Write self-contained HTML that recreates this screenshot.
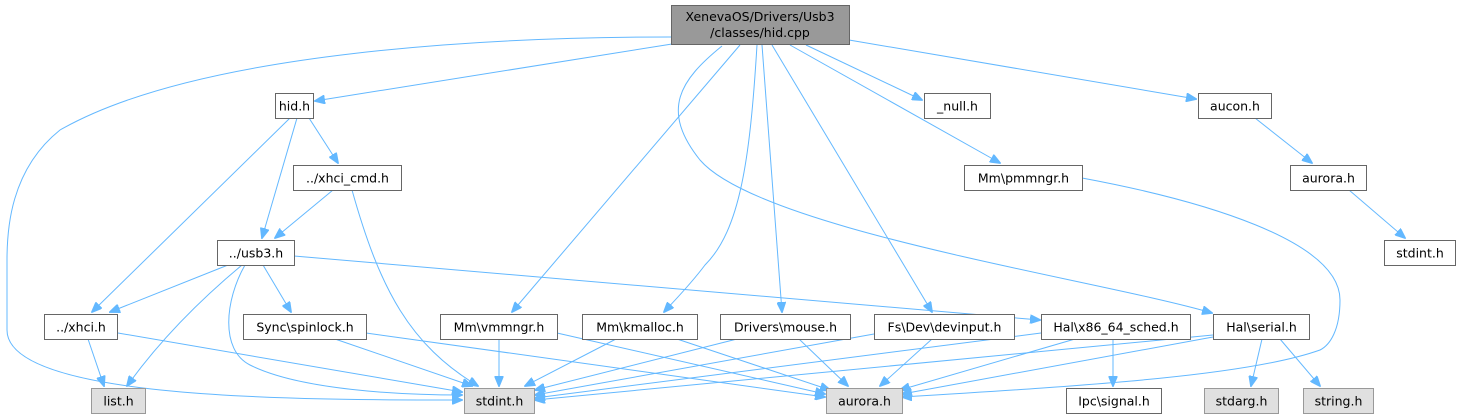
<!DOCTYPE html>
<html><head><meta charset="utf-8"><style>
html,body{margin:0;padding:0;background:#fff}
svg{display:block}
text{font-family:"DejaVu Sans","Liberation Sans",sans-serif;font-size:12.5px;fill:#000}
.b{fill:#fff;stroke:#666;stroke-width:1}
.g{fill:#e0e0e0;stroke:#999;stroke-width:1}
.e{fill:none;stroke:#63b8ff;stroke-width:1}
</style></head><body>
<svg width="1463" height="417" viewBox="0 0 1463 417" xmlns="http://www.w3.org/2000/svg">
<defs><marker id="a" markerWidth="11" markerHeight="9" refX="10" refY="4.5" orient="auto" markerUnits="userSpaceOnUse"><path d="M0,0 L11,4.5 L0,9 z" fill="#63b8ff" stroke="#63b8ff"/></marker></defs>
<g class="e" marker-end="url(#a)">
<path d="M671,37 C500,37 200,50 60,130 C10,170 7,230 7,260 L7,330 C7,400 300,400 462,400"/>
<path d="M672,44 L315,101"/>
<path d="M740,45 L512,312"/>
<path d="M722,46 C680,80 660,110 700,160 C760,230 1100,280 1212,313"/>
<path d="M757,45 C750,160 740,230 705,265 C690,285 675,300 664,312"/>
<path d="M762,45 L782,312"/>
<path d="M772,45 L932,312"/>
<path d="M790,45 L1000,163"/>
<path d="M806,45 L922,100"/>
<path d="M849,40 L1196,99"/>
<path d="M290,118 L92,312"/>
<path d="M297,118 L262,238"/>
<path d="M309,118 L338,163"/>
<path d="M333,190 L275,238"/>
<path d="M352,190 C380,290 410,345 478,386"/>
<path d="M228,265 L110,312"/>
<path d="M242,265 C200,300 160,340 127,386"/>
<path d="M245,265 C225,300 220,350 250,365 C300,390 400,395 462,395"/>
<path d="M263,265 L291,312"/>
<path d="M294,256 L1040,320"/>
<path d="M88,339 L104,386"/>
<path d="M118,333 L462,392"/>
<path d="M335,339 L472,386"/>
<path d="M366,333 L825,397"/>
<path d="M499,339 L499,386"/>
<path d="M557,333 L825,394"/>
<path d="M616,339 L525,386"/>
<path d="M677,339 L830,390"/>
<path d="M737,339 L535,390"/>
<path d="M799,339 L848,386"/>
<path d="M874,334 L535,395"/>
<path d="M932,339 L880,386"/>
<path d="M1041,333 L535,398"/>
<path d="M1075,339 L900,390"/>
<path d="M1113,339 L1113,386"/>
<path d="M1213,335 L535,400"/>
<path d="M1213,337 L902,394"/>
<path d="M1262,339 L1251,386"/>
<path d="M1280,339 L1320,386"/>
<path d="M1082,178 C1200,200 1340,240 1340,300 C1340,330 1330,345 1320,350 C1250,375 1100,385 902,397"/>
<path d="M1255,118 L1312,163"/>
<path d="M1349,190 L1405,238"/>
</g>
<rect x="671.5" y="5.5" width="178" height="39" fill="#999" stroke="#666"/>
<text x="760" y="21" text-anchor="middle">XenevaOS/Drivers/Usb3</text>
<text x="760" y="37" text-anchor="middle">/classes/hid.cpp</text>
<g>
<rect class="b" x="275.5" y="93.5" width="38" height="25"/><text x="294.5" y="110.5" text-anchor="middle">hid.h</text>
<rect class="b" x="293.5" y="165.5" width="108" height="25"/><text x="347.5" y="182.5" text-anchor="middle">../xhci_cmd.h</text>
<rect class="b" x="217.5" y="240.5" width="77" height="25"/><text x="256" y="257.5" text-anchor="middle">../usb3.h</text>
<rect class="b" x="44.5" y="314.5" width="73" height="25"/><text x="81" y="331.5" text-anchor="middle">../xhci.h</text>
<rect class="b" x="243.5" y="314.5" width="123" height="25"/><text x="305" y="331.5" text-anchor="middle">Sync\spinlock.h</text>
<rect class="b" x="440.5" y="314.5" width="117" height="25"/><text x="499" y="331.5" text-anchor="middle">Mm\vmmngr.h</text>
<rect class="b" x="582.5" y="314.5" width="115" height="25"/><text x="640" y="331.5" text-anchor="middle">Mm\kmalloc.h</text>
<rect class="b" x="720.5" y="314.5" width="130" height="25"/><text x="785.5" y="331.5" text-anchor="middle">Drivers\mouse.h</text>
<rect class="b" x="874.5" y="314.5" width="140" height="25"/><text x="944.5" y="331.5" text-anchor="middle">Fs\Dev\devinput.h</text>
<rect class="b" x="1041.5" y="314.5" width="149" height="25"/><text x="1116" y="331.5" text-anchor="middle">Hal\x86_64_sched.h</text>
<rect class="b" x="1213.5" y="314.5" width="96" height="25"/><text x="1261.5" y="331.5" text-anchor="middle">Hal\serial.h</text>
<rect class="g" x="91.5" y="388.5" width="54" height="25"/><text x="118.5" y="405.5" text-anchor="middle">list.h</text>
<rect class="g" x="464.5" y="388.5" width="70" height="25"/><text x="499.5" y="405.5" text-anchor="middle">stdint.h</text>
<rect class="g" x="826.5" y="388.5" width="76" height="25"/><text x="864.5" y="405.5" text-anchor="middle">aurora.h</text>
<rect class="b" x="1066.5" y="388.5" width="95" height="25"/><text x="1114" y="405.5" text-anchor="middle">Ipc\signal.h</text>
<rect class="g" x="1204.5" y="388.5" width="74" height="25"/><text x="1241.5" y="405.5" text-anchor="middle">stdarg.h</text>
<rect class="g" x="1303.5" y="388.5" width="70" height="25"/><text x="1338.5" y="405.5" text-anchor="middle">string.h</text>
<rect class="b" x="924.5" y="93.5" width="66" height="25"/><text x="957.5" y="110.5" text-anchor="middle">_null.h</text>
<rect class="b" x="1198.5" y="93.5" width="73" height="25"/><text x="1235" y="110.5" text-anchor="middle">aucon.h</text>
<rect class="b" x="964.5" y="165.5" width="118" height="25"/><text x="1023.5" y="182.5" text-anchor="middle">Mm\pmmngr.h</text>
<rect class="b" x="1290.5" y="165.5" width="76" height="25"/><text x="1328.5" y="182.5" text-anchor="middle">aurora.h</text>
<rect class="b" x="1384.5" y="240.5" width="71" height="25"/><text x="1420" y="257.5" text-anchor="middle">stdint.h</text>
</g>
</svg>
</body></html>
